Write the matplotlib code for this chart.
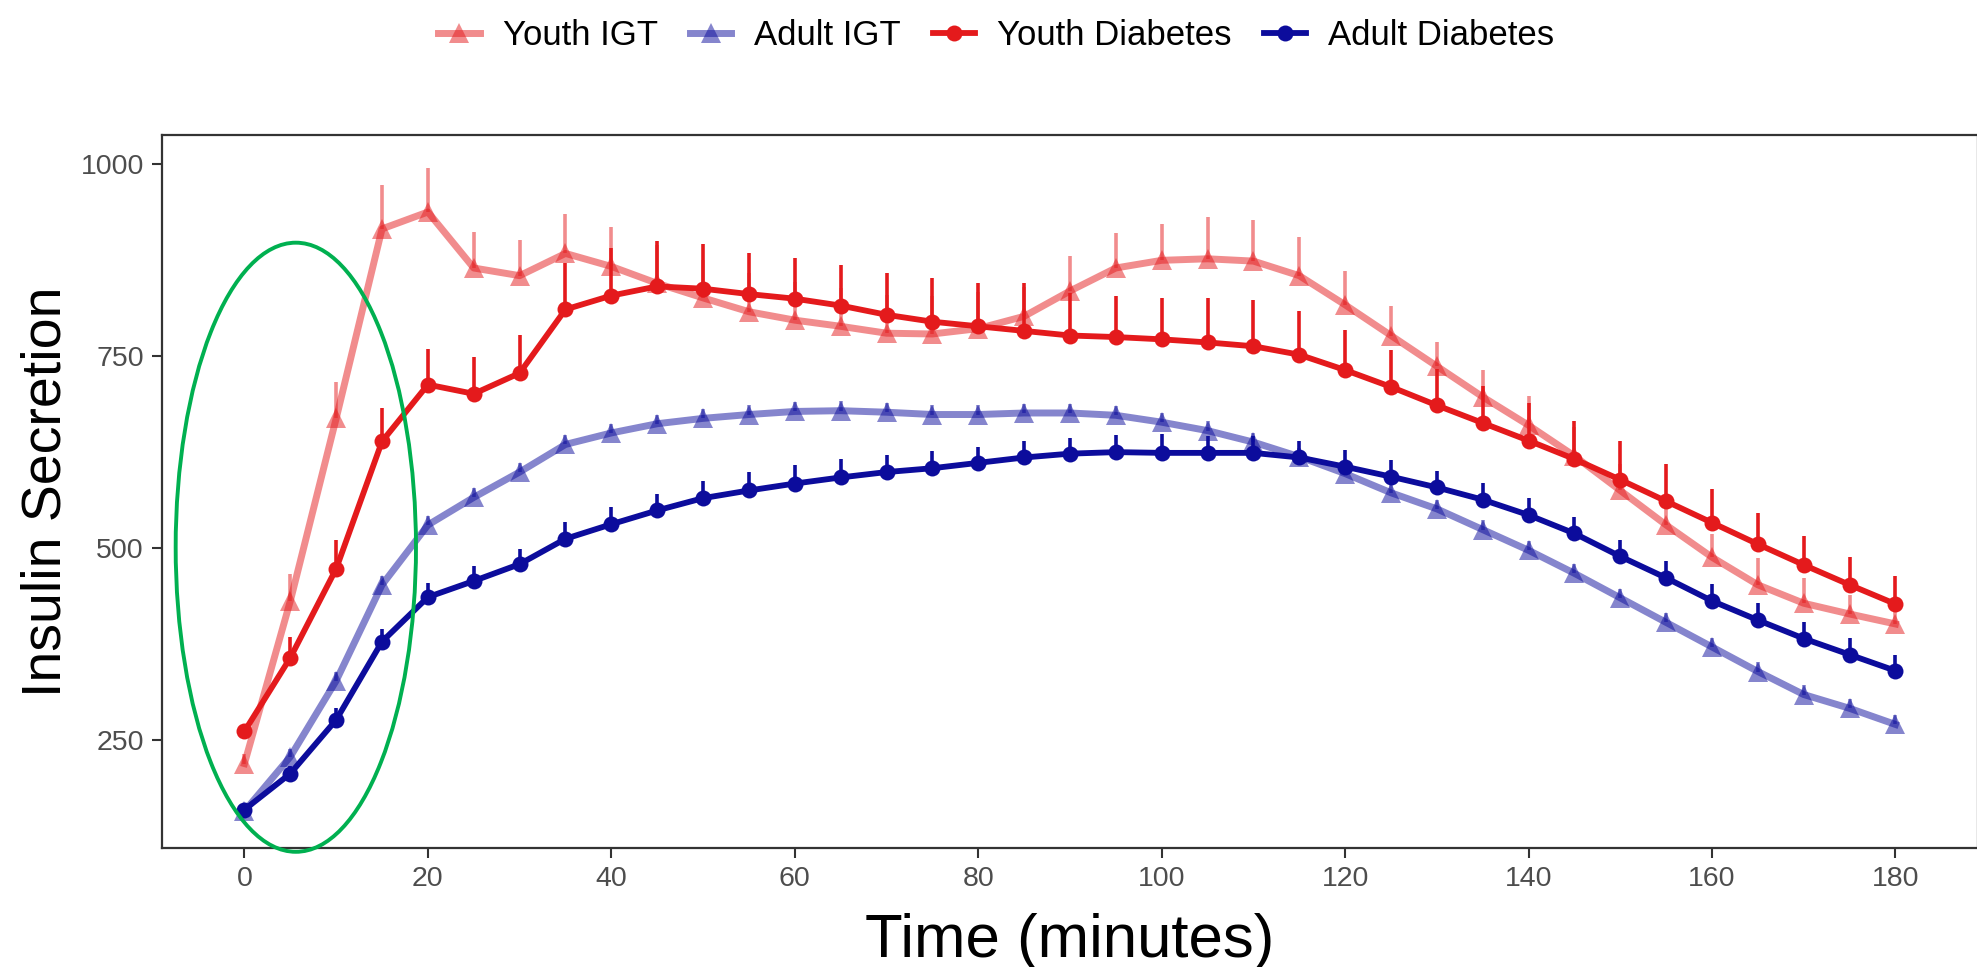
import matplotlib
matplotlib.use("Agg")
import matplotlib.pyplot as plt
from matplotlib import font_manager
from matplotlib.lines import Line2D
from matplotlib.patches import Ellipse
import numpy as np

# time points (minutes)
time = np.arange(0, 181, 5)

# mean insulin secretion per group
youth_igt = [219, 431, 669, 916, 938, 865, 855, 884, 867, 845, 826, 808, 797, 789, 780, 779,
             786, 802, 835, 865, 875, 877, 874, 855, 817, 777, 737, 697, 660, 620, 575, 530,
             488, 452, 428, 414, 401]
adult_igt = [157, 228, 327, 452, 530, 566, 599, 635, 650, 662, 669, 674, 678, 679, 677, 674,
             674, 676, 676, 673, 664, 653, 638, 619, 597, 572, 551, 524, 497, 467, 435, 403,
             371, 339, 309, 291, 270]
youth_diab = [261, 357, 473, 639, 713, 701, 728, 811, 829, 841, 838, 831, 825, 816, 804, 795,
              789, 783, 777, 775, 772, 768, 763, 752, 732, 710, 686, 663, 640, 616, 589, 561,
              533, 505, 478, 452, 427]
adult_diab = [159, 206, 276, 378, 436, 457, 479, 512, 531, 549, 565, 575, 584, 592, 599, 604,
              611, 618, 623, 625, 624, 624, 624, 618, 606, 593, 579, 563, 543, 519, 489, 461,
              431, 406, 382, 361, 340]

# upper error bars (SE)
youth_igt_se = [12, 35, 47, 57, 57, 47, 47, 52, 51, 50, 50, 50, 50, 50, 50, 50,
                48, 38, 45, 45, 48, 54, 54, 51, 44, 38, 32, 35, 38, 38, 35, 33,
                30, 35, 33, 25, 22]
adult_igt_se = [8, 10, 12, 12, 12, 12, 12, 12, 12, 12, 12, 12, 12, 12, 12, 12,
                12, 12, 12, 12, 12, 12, 12, 12, 12, 12, 12, 12, 12, 12, 12, 12,
                12, 12, 12, 12, 12]
youth_diab_se = [8, 27, 37, 44, 46, 48, 50, 60, 62, 59, 58, 54, 53, 53, 54, 57,
                 57, 62, 55, 53, 54, 58, 60, 57, 52, 48, 47, 48, 49, 50, 51, 48,
                 44, 41, 38, 36, 37]
adult_diab_se = [5, 10, 15, 16, 18, 20, 20, 22, 23, 22, 22, 24, 24, 24, 22, 22,
                 21, 21, 21, 22, 24, 22, 22, 22, 22, 22, 22, 22, 22, 22, 22, 22,
                 22, 22, 22, 22, 20]

labels = ["Youth IGT", "Adult IGT", "Youth Diabetes", "Adult Diabetes"]

red = "#E41A1C"
navy = "#0C0C9C"

plt.rcParams['font.family'] = ['Liberation Sans', 'DejaVu Sans']

# legend text in the original is condensed
try:
    font_manager.findfont('Liberation Sans Narrow', fallback_to_default=False)
    legend_font = {'family': ['Liberation Sans Narrow', 'Liberation Sans'], 'size': 29}
except Exception:
    legend_font = {'family': ['Liberation Sans', 'DejaVu Sans'], 'size': 25}

fig = plt.figure(figsize=(19.77, 9.67), dpi=100)
ax = fig.add_axes([0.0819, 0.1231, 0.9186, 0.737])

series = [
    (youth_igt, youth_igt_se, red, 0.5, '^', 15, 5.0),
    (adult_igt, adult_igt_se, navy, 0.5, '^', 15, 5.0),
    (youth_diab, youth_diab_se, red, 1.0, 'o', 11.5, 4.2),
    (adult_diab, adult_diab_se, navy, 1.0, 'o', 11.5, 4.2),
]

for vals, se, col, a, mk, ms, lw in series:
    vals = np.array(vals)
    ax.vlines(time, vals, vals + np.array(se), color=col, alpha=a, lw=2.6)
    ax.plot(time, vals, color=col, alpha=a, lw=lw, marker=mk, markersize=ms,
            markeredgewidth=0)

# highlight of the first 15 minutes
ell = Ellipse((5.6, 501), 26.2, 794, fill=False, edgecolor="#00B050", lw=2.8,
              clip_on=False, zorder=5)
ax.add_patch(ell)

ax.set_xlim(-9, 189)
ax.set_ylim(109, 1038)
ax.set_xticks(np.arange(0, 181, 20))
ax.set_yticks([250, 500, 750, 1000])

for sp in ax.spines.values():
    sp.set_color("#333333")
    sp.set_linewidth(1.6)
ax.tick_params(axis='both', length=7, width=1.5, color="#333333",
               labelsize=20.5, labelcolor="#4D4D4D", pad=6)

ax.set_xlabel("Time (minutes)", fontsize=44.5, color="black", labelpad=15)
ax.set_ylabel("Insulin Secretion", fontsize=40, color="black", labelpad=6)

handles = []
for vals, se, col, a, mk, ms, lw in series:
    handles.append(Line2D([0], [0], color=col, alpha=a, lw=lw, marker=mk,
                          markersize=ms, markeredgewidth=0))

fig.legend(handles, labels, loc='upper center', bbox_to_anchor=(0.504, 1.0),
           ncol=4, frameon=False, prop=legend_font, handlelength=1.2,
           handletextpad=0.66, columnspacing=0.92, borderaxespad=0.15)

fig.savefig("out.png", dpi=100)
